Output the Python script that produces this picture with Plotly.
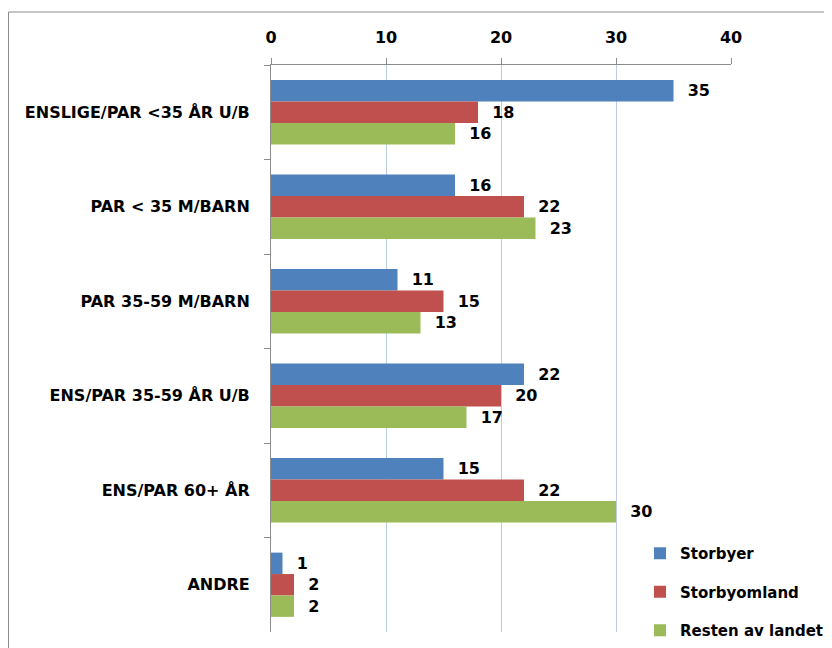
import plotly.graph_objects as go

categories = ["ENSLIGE/PAR <35 ÅR U/B", "PAR < 35 M/BARN", "PAR 35-59 M/BARN",
              "ENS/PAR 35-59 ÅR U/B", "ENS/PAR 60+ ÅR", "ANDRE"]
storbyer = [35, 16, 11, 22, 15, 1]
storbyomland = [18, 22, 15, 20, 22, 2]
resten = [16, 23, 13, 17, 30, 2]
series_names = ["Storbyer", "Storbyomland", "Resten av landet"]
colors = ["#4F81BD", "#C0504D", "#9BBB59"]
x_ticks = [0, 10, 20, 30, 40]

FONT = "DejaVu Sans, Arial"

# page has an 8px body margin: figure is 824x640 placed at (8, 8)
W, H = 824, 640
L, R, T, B = 263, 101, 57, 16
PW, PH = W - L - R, H - T - B

fig = go.Figure()
for i, (name, vals) in enumerate(zip(series_names, [storbyer, storbyomland, resten])):
    fig.add_trace(go.Bar(
        y=categories, x=vals, orientation="h", name=name,
        marker=dict(color=colors[i], line=dict(width=0)),
        text=vals, texttemplate="  %{x}", textposition="outside",
        textfont=dict(family=FONT, size=16, color="black", weight="bold"),
        cliponaxis=False, legendgroup=name,
    ))

fig.update_layout(
    width=W, height=H,
    margin=dict(l=L, r=R, t=T, b=B, autoexpand=False),
    paper_bgcolor="white", plot_bgcolor="white",
    barmode="group", bargap=0.32, bargroupgap=0,
    font=dict(family=FONT, size=16, color="black"),
    showlegend=True,
    legend=dict(x=(632 - L) / PW, y=(H - B - 529) / PH, xanchor="left", yanchor="top",
                traceorder="grouped", tracegroupgap=16,
                font=dict(family=FONT, size=15, color="black", weight="bold"),
                bgcolor="rgba(0,0,0,0)", itemwidth=30),
    xaxis=dict(side="top", range=[0, 40], tickvals=x_ticks,
               showgrid=True, gridcolor="#B9CDE5", gridwidth=1,
               showline=True, linecolor="#8C8C8C", linewidth=1,
               ticks="outside", ticklen=6, tickcolor="#8C8C8C",
               ticklabelstandoff=9, automargin=False,
               tickfont=dict(family=FONT, size=16, color="black", weight="bold"),
               zeroline=False, fixedrange=True),
    yaxis=dict(autorange="reversed", showgrid=False,
               showline=True, linecolor="#8C8C8C", linewidth=1,
               ticks="outside", ticklen=6, tickcolor="#8C8C8C",
               tickson="boundaries", ticklabelstandoff=17, automargin=False,
               tickfont=dict(family=FONT, size=16, color="black", weight="bold"),
               fixedrange=True),
    shapes=[dict(type="rect", xref="paper", yref="paper",
                 x0=(0.5 - L) / PW, x1=(W + 20 - L) / PW,
                 y0=-0.1, y1=(H - B - 4) / PH,
                 line=dict(color="#8C8C8C", width=1), fillcolor="rgba(0,0,0,0)",
                 layer="below")],
)

fig.write_html("out.html")
